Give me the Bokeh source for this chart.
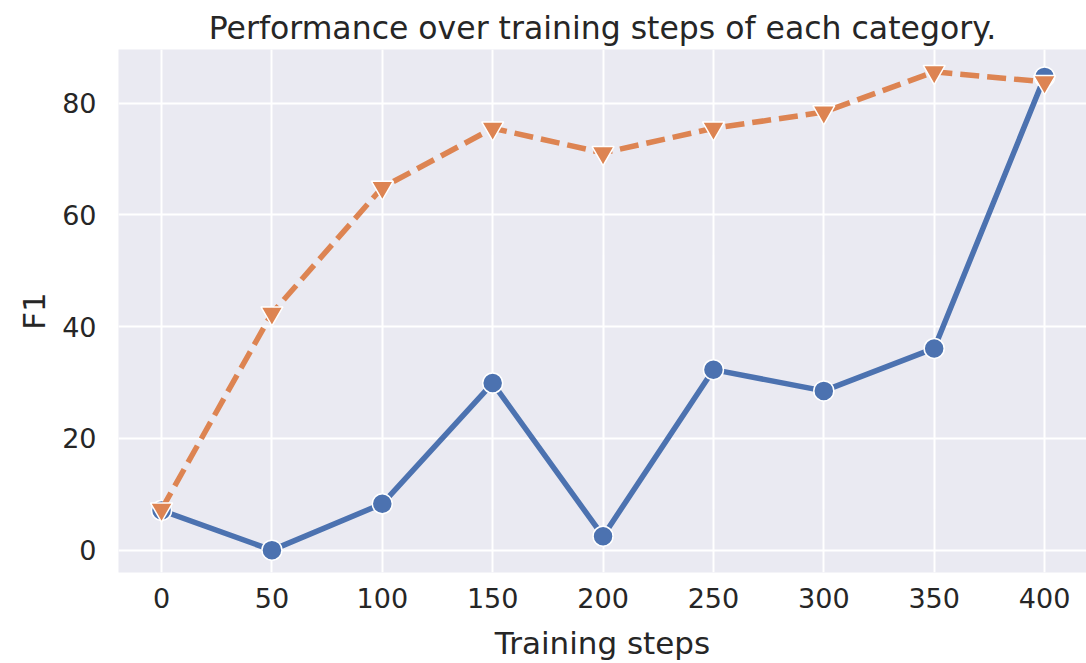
from bokeh.plotting import figure
from bokeh.models import Range1d, FixedTicker
from bokeh.embed import file_html
from bokeh.resources import INLINE

steps = [0, 50, 100, 150, 200, 250, 300, 350, 400]
series_a = [7.1, 0.0, 8.3, 29.9, 2.5, 32.3, 28.5, 36.1, 84.7]
series_b = [7.3, 42.4, 64.9, 75.5, 71.1, 75.5, 78.4, 85.6, 83.8]
x_ticks = [0, 50, 100, 150, 200, 250, 300, 350, 400]
y_ticks = [0, 20, 40, 60, 80]

BLUE = "#4C72B0"
ORANGE = "#DD8452"
FONT = "DejaVu Sans"

p = figure(width=1086, height=663, output_backend="svg", toolbar_location=None,
           x_range=Range1d(-19.5, 419.0), y_range=Range1d(-4.0, 89.6),
           title="Performance over training steps of each category.",
           min_border_left=118, min_border_right=0, min_border_top=49, min_border_bottom=90)

p.background_fill_color = "#EAEAF2"
p.border_fill_color = "white"
p.outline_line_color = None

p.title.text_font = FONT
p.title.text_font_size = "31.5px"
p.title.text_font_style = "normal"
p.title.text_color = "#262626"
p.title.align = "center"
p.title.vertical_align = "top"
p.title.standoff = 4

for g in (p.xgrid, p.ygrid):
    g.grid_line_color = "white"
    g.grid_line_width = 2
p.xgrid.ticker = FixedTicker(ticks=x_ticks)
p.ygrid.ticker = FixedTicker(ticks=y_ticks)

for ax in (p.xaxis, p.yaxis):
    ax.axis_line_color = None
    ax.major_tick_line_color = None
    ax.minor_tick_line_color = None
    ax.major_tick_out = 0
    ax.major_tick_in = 0
    ax.major_label_text_font = FONT
    ax.major_label_text_font_size = "27px"
    ax.major_label_text_color = "#262626"
    ax.axis_label_text_font = FONT
    ax.axis_label_text_font_size = "31px"
    ax.axis_label_text_font_style = "normal"
    ax.axis_label_text_color = "#262626"

p.xaxis.ticker = FixedTicker(ticks=x_ticks)
p.yaxis.ticker = FixedTicker(ticks=y_ticks)
p.xaxis.axis_label = "Training steps"
p.yaxis.axis_label = "F1"
p.xaxis.major_label_standoff = 15
p.xaxis.axis_label_standoff = 14
p.yaxis.major_label_standoff = 22
p.yaxis.axis_label_standoff = 7

p.line(steps, series_a, line_color=BLUE, line_width=5.5)
p.scatter(steps, series_a, marker="circle", size=20, fill_color=BLUE,
          line_color="white", line_width=1.5)
p.line(steps, series_b, line_color=ORANGE, line_width=5.5, line_dash="19 8")
p.scatter(steps, series_b, marker="inverted_triangle", size=22, fill_color=ORANGE,
          line_color="white", line_width=1.5)

open("out.html", "w").write(file_html(p, INLINE))
